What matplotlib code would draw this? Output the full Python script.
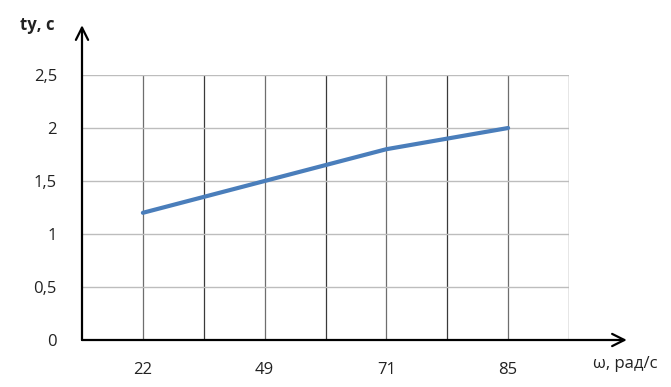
import matplotlib.pyplot as plt

categories = ['22', '49', '71', '85']
t_values = [1.2, 1.5, 1.8, 2.0]
y_ticks = [0, 0.5, 1, 1.5, 2, 2.5]
y_tick_labels = ['0', '0,5', '1', '1,5', '2', '2,5']

plt.rcParams['font.family'] = ['Open Sans', 'DejaVu Sans']

fig = plt.figure(figsize=(6.71, 3.87), dpi=100)
ax = fig.add_axes([82 / 671, 47 / 387, 487 / 671, 265 / 387])

# categories sit on odd positions, gridlines every unit
x_pos = [2 * i + 1 for i in range(len(categories))]

for gx in range(1, 9):
    ax.axvline(gx, color='#6e6e6e' if gx % 2 else '#3a3a3a', lw=0.9, zorder=1)
for gy in y_ticks[1:]:
    ax.axhline(gy, color='#bdbdbd', lw=1.0, zorder=1)

ax.plot(x_pos, t_values, color='#4a7ebb', lw=3, solid_capstyle='round', zorder=3)

ax.set_xlim(0, 8)
ax.set_ylim(0, 2.5)
ax.set_xticks(x_pos)
ax.set_xticklabels(categories, fontsize=12, color='#222222')
ax.set_yticks(y_ticks)
ax.set_yticklabels(y_tick_labels, fontsize=12, color='#222222')
ax.tick_params(length=0)
ax.tick_params(axis='y', pad=18)
ax.tick_params(axis='x', pad=16)
for s in ax.spines.values():
    s.set_visible(False)

# axes with arrows
ax.annotate('', xy=(8.95, 0), xytext=(0, 0), xycoords='data',
            arrowprops=dict(arrowstyle='->', color='black', lw=1.6,
                            mutation_scale=22, shrinkA=0, shrinkB=0),
            annotation_clip=False)
ax.annotate('', xy=(0, 2.97), xytext=(0, 0), xycoords='data',
            arrowprops=dict(arrowstyle='->', color='black', lw=1.6,
                            mutation_scale=22, shrinkA=0, shrinkB=0),
            annotation_clip=False)

fig.text(37 / 671, 1 - 25 / 387, 'tу, с', fontsize=12, fontweight='bold',
         ha='center', va='center', color='#222222')
fig.text(625 / 671, 1 - 364 / 387, 'ω, рад/с', fontsize=12,
         ha='center', va='center', color='#222222')

fig.savefig('out.png', dpi=100)
